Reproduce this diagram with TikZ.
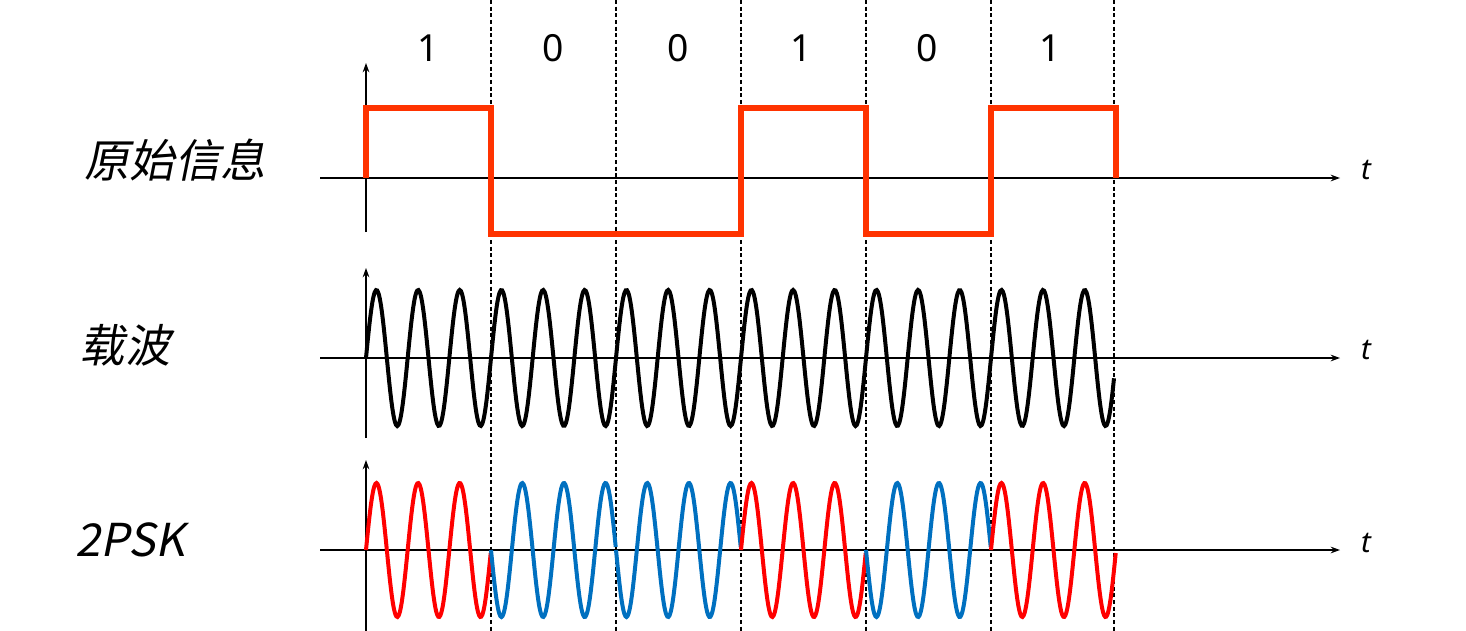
\documentclass[tikz,border=0pt]{standalone}
\usepackage{fontspec}
\setmainfont{Noto Sans}
\newfontfamily\cjk{Noto Sans CJK SC}[FakeSlant=0.2]
\usetikzlibrary{arrows.meta}
\definecolor{sq}{RGB}{255,51,0}
\definecolor{pr}{RGB}{255,0,0}
\definecolor{pb}{RGB}{0,112,192}
\begin{document}
\begin{tikzpicture}[x=0.75pt,y=-0.75pt,
  ax/.style={line width=1pt,-{Stealth[length=7pt,width=5pt]}},
  dl/.style={densely dashed,line width=0.8pt},
  lab/.style={font=\cjk\fontsize{34}{36}\selectfont,anchor=center},
  bit/.style={font=\fontsize{28}{30}\selectfont},
  tl/.style={font=\itshape\fontsize{22}{24}\selectfont}]
\useasboundingbox (0,0) rectangle (1466,631);
\foreach \x in {491,616,741,866,991,1114} \draw[dl] (\x,0) -- (\x,631);
% axes
\draw[ax] (320,178) -- (1340,178);
\draw[ax] (366,232) -- (366,63);
\draw[ax] (320,358) -- (1340,358);
\draw[ax] (366,438) -- (366,268);
\draw[ax] (320,550) -- (1340,550);
\draw[ax] (366,631) -- (366,460);
\node[tl] (t1) at (1366,170) {t};
\node[tl] (t2) at (1366,350) {t};
\node[tl] (t3) at (1366,543) {t};
\node[lab] (l1) at (175,160) {原始信息};
\node[lab] (l2) at (125,345) {载波};
\node[lab] (l3) at (130,540) {2PSK};
\foreach \x/\b [count=\i] in {428/1,553/0,678/0,801/1,927/0,1050/1} \node[bit] (b\i) at (\x,48) {\b};
% square wave
\draw[sq,line width=4.5pt,line join=miter] (366,178) -- (366,108) -- (491,108) -- (491,234) -- (741,234) -- (741,108) -- (866,108) -- (866,234) -- (991,234) -- (991,108) -- (1116,108) -- (1116,178);
% carrier
\draw[black,line width=3pt] plot[domain=366:1114,samples=600,smooth] (\x,{358-68*sin(8.64*(\x-366))});
% 2PSK
\foreach \a/\c/\s in {366/pr/1,491/pb/-1,616/pb/-1,741/pr/1,866/pb/-1,991/pr/1}
  \draw[\c,line width=3pt] plot[domain=\a:\a+124.7,samples=120,smooth] (\x,{550-\s*67*sin(8.64*(\x-\a))});
\end{tikzpicture}
\end{document}
